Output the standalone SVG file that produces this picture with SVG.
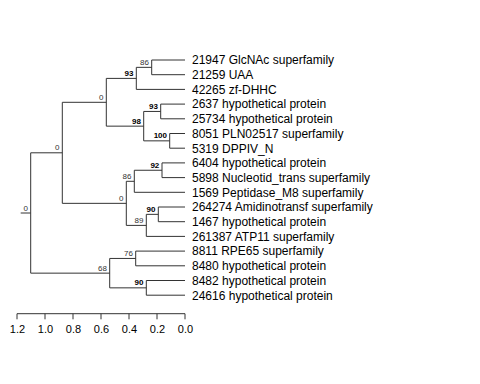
<svg xmlns="http://www.w3.org/2000/svg" width="480" height="384" viewBox="0 0 480 384">
<style>
.e{fill:none;stroke:#333;stroke-width:1}
.lf{font-family:"Liberation Sans",Arial,sans-serif;font-size:12px;fill:#000}
.bs{font-family:"Liberation Sans",Arial,sans-serif;font-size:8px;fill:#333;text-anchor:end}
.b{font-weight:bold;fill:#000}
.ax{font-family:"Liberation Sans",Arial,sans-serif;font-size:11px;fill:#000;text-anchor:middle}
</style>
<rect width="480" height="384" fill="#fff"/>
<g id="connectors">
<path class="e" d="M20.7,213H30.7M30.7,152.8V273.15M30.7,152.8H62.3M30.7,273.15H109.7"/>
<path class="e" d="M62.3,102.3V203.35M62.3,102.3H106.3M62.3,203.35H126.3"/>
<path class="e" d="M106.3,78.4V126.15M106.3,78.4H136.3M106.3,126.15H143.7"/>
<path class="e" d="M136.3,67.35V89.4M136.3,67.35H151.7M136.3,89.4H185"/>
<path class="e" d="M151.7,60V74.7M151.7,60H185M151.7,74.7H185"/>
<path class="e" d="M143.7,111.45V140.85M143.7,111.45H160.7M143.7,140.85H169.7"/>
<path class="e" d="M160.7,104.1V118.8M160.7,104.1H185M160.7,118.8H185"/>
<path class="e" d="M169.7,133.5V148.2M169.7,133.5H185M169.7,148.2H185"/>
<path class="e" d="M126.3,181.3V225.4M126.3,181.3H134.3M126.3,225.4H146.3"/>
<path class="e" d="M134.3,170.25V192.3M134.3,170.25H162M134.3,192.3H185"/>
<path class="e" d="M162,162.9V177.6M162,162.9H185M162,177.6H185"/>
<path class="e" d="M146.3,214.35V236.4M146.3,214.35H158.3M146.3,236.4H185"/>
<path class="e" d="M158.3,207V221.7M158.3,207H185M158.3,221.7H185"/>
<path class="e" d="M109.7,258.45V287.85M109.7,258.45H135.7M109.7,287.85H146.3"/>
<path class="e" d="M135.7,251.1V265.8M135.7,251.1H185M135.7,265.8H185"/>
<path class="e" d="M146.3,280.5V295.2M146.3,280.5H185M146.3,295.2H185"/>
</g>
<g id="support">
<text class="bs" x="28" y="210.5">0</text>
<text class="bs" x="59.5" y="150.3">0</text>
<text class="bs" x="107" y="270.6">68</text>
<text class="bs" x="103.5" y="99.8">0</text>
<text class="bs b" x="133.5" y="75.9">93</text>
<text class="bs" x="149" y="64.8">86</text>
<text class="bs b" x="141" y="123.6">98</text>
<text class="bs b" x="158" y="108.9">93</text>
<text class="bs b" x="167" y="138.3">100</text>
<text class="bs" x="123.5" y="200.8">0</text>
<text class="bs" x="131.5" y="178.8">86</text>
<text class="bs b" x="159.3" y="167.7">92</text>
<text class="bs" x="143.5" y="222.9">89</text>
<text class="bs b" x="155.5" y="211.8">90</text>
<text class="bs" x="133" y="255.9">76</text>
<text class="bs b" x="143.5" y="285.3">90</text>
</g>
<g id="leaves">
<g id="n21947"><text class="lf" x="192" y="64.3">21947 GlcNAc superfamily</text></g>
<g id="n21259"><text class="lf" x="192" y="79">21259 UAA</text></g>
<g id="n42265"><text class="lf" x="192" y="93.7">42265 zf-DHHC</text></g>
<g id="n2637"><text class="lf" x="192" y="108.4">2637 hypothetical protein</text></g>
<g id="n25734"><text class="lf" x="192" y="123.1">25734 hypothetical protein</text></g>
<g id="n8051"><text class="lf" x="192" y="137.8">8051 PLN02517 superfamily</text></g>
<g id="n5319"><text class="lf" x="192" y="152.5">5319 DPPIV_N</text></g>
<g id="n6404"><text class="lf" x="192" y="167.2">6404 hypothetical protein</text></g>
<g id="n5898"><text class="lf" x="192" y="181.9">5898 Nucleotid_trans superfamily</text></g>
<g id="n1569"><text class="lf" x="192" y="196.6">1569 Peptidase_M8 superfamily</text></g>
<g id="n264274"><text class="lf" x="192" y="211.3">264274 Amidinotransf superfamily</text></g>
<g id="n1467"><text class="lf" x="192" y="226">1467 hypothetical protein</text></g>
<g id="n261387"><text class="lf" x="192" y="240.7">261387 ATP11 superfamily</text></g>
<g id="n8811"><text class="lf" x="192" y="255.4">8811 RPE65 superfamily</text></g>
<g id="n8480"><text class="lf" x="192" y="270.1">8480 hypothetical protein</text></g>
<g id="n8482"><text class="lf" x="192" y="284.8">8482 hypothetical protein</text></g>
<g id="n24616"><text class="lf" x="192" y="299.5">24616 hypothetical protein</text></g>
</g>
<g id="axis">
<path class="e" d="M17,313.7H185M17,313.7V319.3M45,313.7V319.3M73,313.7V319.3M101,313.7V319.3M129,313.7V319.3M157,313.7V319.3M185,313.7V319.3"/>
<text class="ax" x="17.5" y="333.3">1.2</text>
<text class="ax" x="45.5" y="333.3">1.0</text>
<text class="ax" x="73.5" y="333.3">0.8</text>
<text class="ax" x="101.5" y="333.3">0.6</text>
<text class="ax" x="129.5" y="333.3">0.4</text>
<text class="ax" x="157.5" y="333.3">0.2</text>
<text class="ax" x="185.5" y="333.3">0.0</text>
</g>
</svg>
